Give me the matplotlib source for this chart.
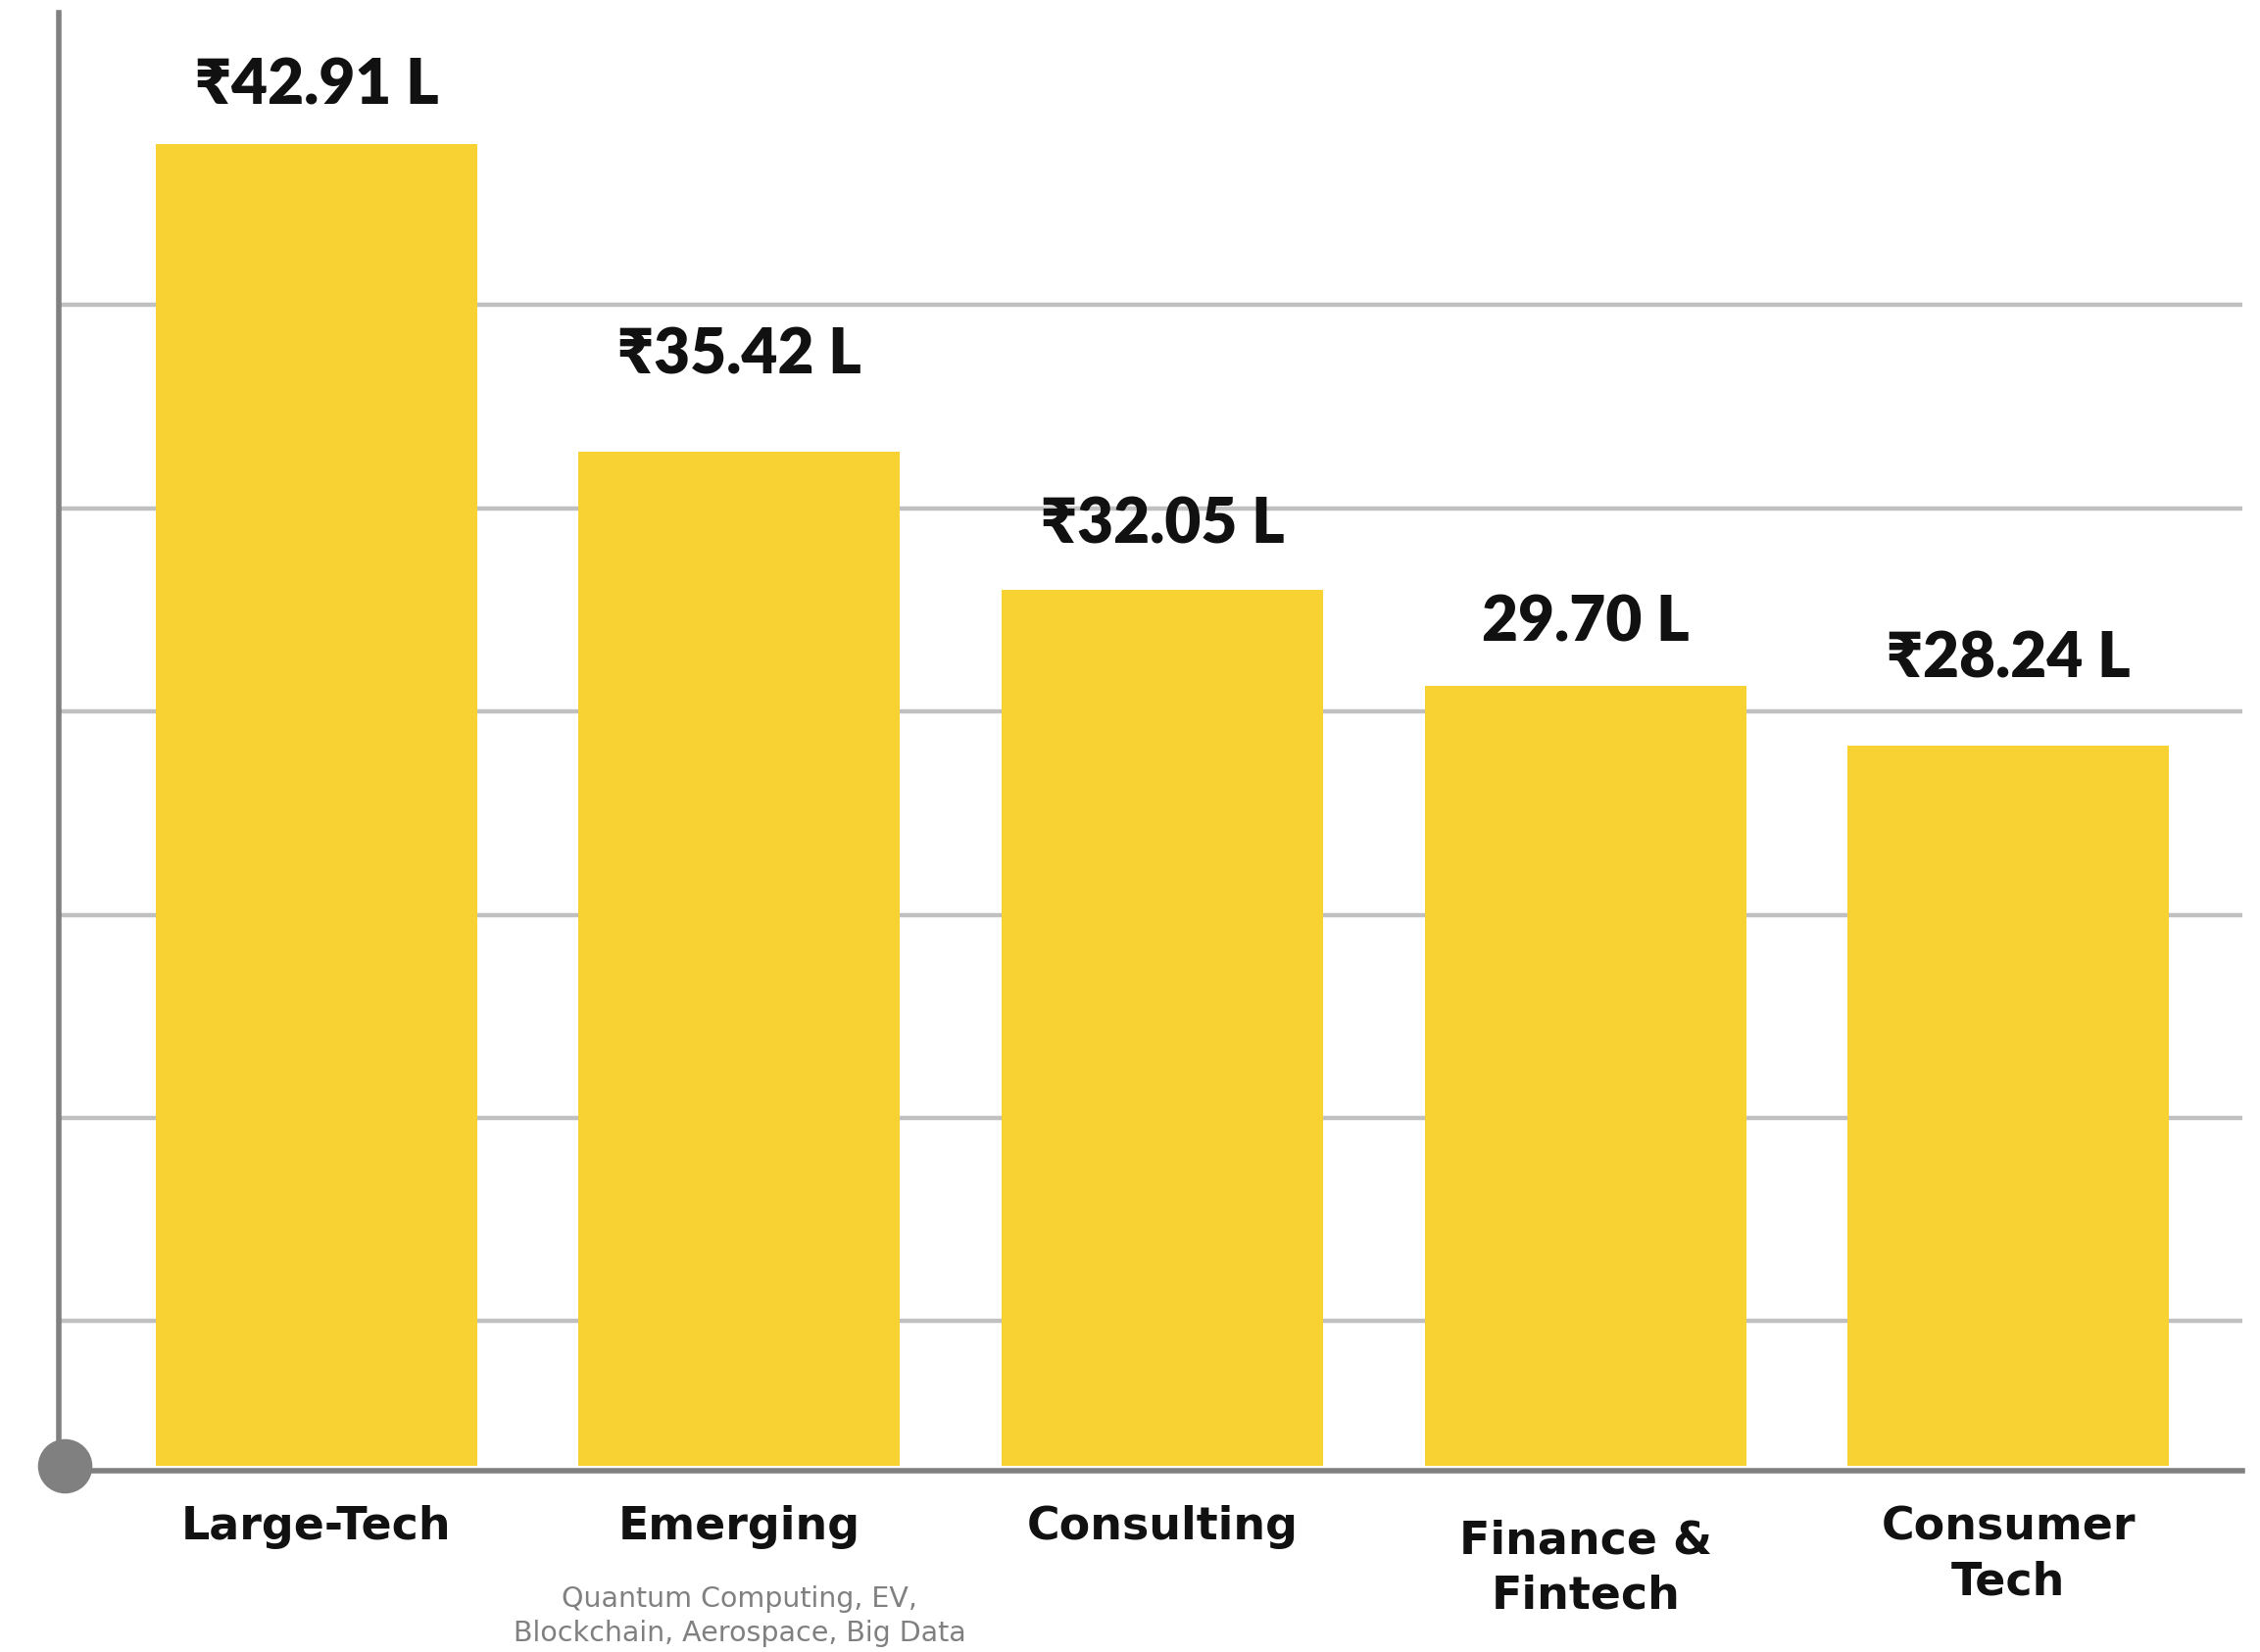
import numpy as np
import matplotlib.pyplot as plt

# data
categories = ['Large-Tech', 'Emerging', 'Consulting', 'Finance &\nFintech', 'Consumer\nTech']
salaries = [42.91, 35.42, 32.05, 29.70, 28.24]
value_labels = ['₹42.91 L', '₹35.42 L', '₹32.05 L', '29.70 L', '₹28.24 L']
emerging_note = 'Quantum Computing, EV,\nBlockchain, Aerospace, Big Data'

BAR_COLOR = '#F8D133'
AXIS_GRAY = '#808080'
GRID_GRAY = '#C0C0C0'
TEXT_DARK = '#111111'
NUM_FONTS = ['Lato', 'Noto Sans', 'DejaVu Sans']
CAT_FONTS = ['DejaVu Sans']

# hand nudges for the labels (points), like in the original design
value_pad = [29, 57, 34, 33, 50]
cat_pad = [29, 29, 29, 39, 29]

fig = plt.figure(figsize=(23.06, 16.86), dpi=100)
ax = fig.add_axes([0.026, 0.1127, 0.9662, 0.8796])

x = np.arange(len(categories))
ax.bar(x, salaries, width=0.76, color=BAR_COLOR, zorder=2)
ax.set_xlim(-0.609, 4.553)
ax.set_ylim(10.71, 46.10)

# decorative grid, evenly spaced
for g in np.arange(14.23, 40, 4.95):
    ax.axhline(g, color=GRID_GRAY, lw=3.2, zorder=1)

ax.set_xticks([])
ax.set_yticks([])
for s in ['top', 'right']:
    ax.spines[s].set_visible(False)
ax.spines['left'].set_color(AXIS_GRAY)
ax.spines['left'].set_linewidth(4)
ax.spines['bottom'].set_color(AXIS_GRAY)
ax.spines['bottom'].set_linewidth(4)
ax.spines['bottom'].set_position(('outward', 3.6))

# dot at the origin
ax.plot([0.0027], [0], marker='o', ms=39, color=AXIS_GRAY, transform=ax.transAxes,
        clip_on=False, zorder=5)

for i in range(len(x)):
    ax.annotate(value_labels[i], (x[i], salaries[i]), xytext=(0, value_pad[i]),
                textcoords='offset points', ha='center', va='baseline',
                fontsize=46, fontweight='heavy', color=TEXT_DARK, family=NUM_FONTS)
    ax.annotate(categories[i], (x[i], 0), xycoords=('data', 'axes fraction'),
                xytext=(0, -cat_pad[i]), textcoords='offset points',
                ha='center', va='top', fontsize=33, fontweight='bold',
                color=TEXT_DARK, family=CAT_FONTS, linespacing=1.33)

ax.annotate(emerging_note, (x[1], 0), xycoords=('data', 'axes fraction'),
            xytext=(0, -88), textcoords='offset points', ha='center',
            va='top', fontsize=20.5, color=AXIS_GRAY, family=CAT_FONTS,
            linespacing=1.3)

fig.savefig('out.png', dpi=100)
